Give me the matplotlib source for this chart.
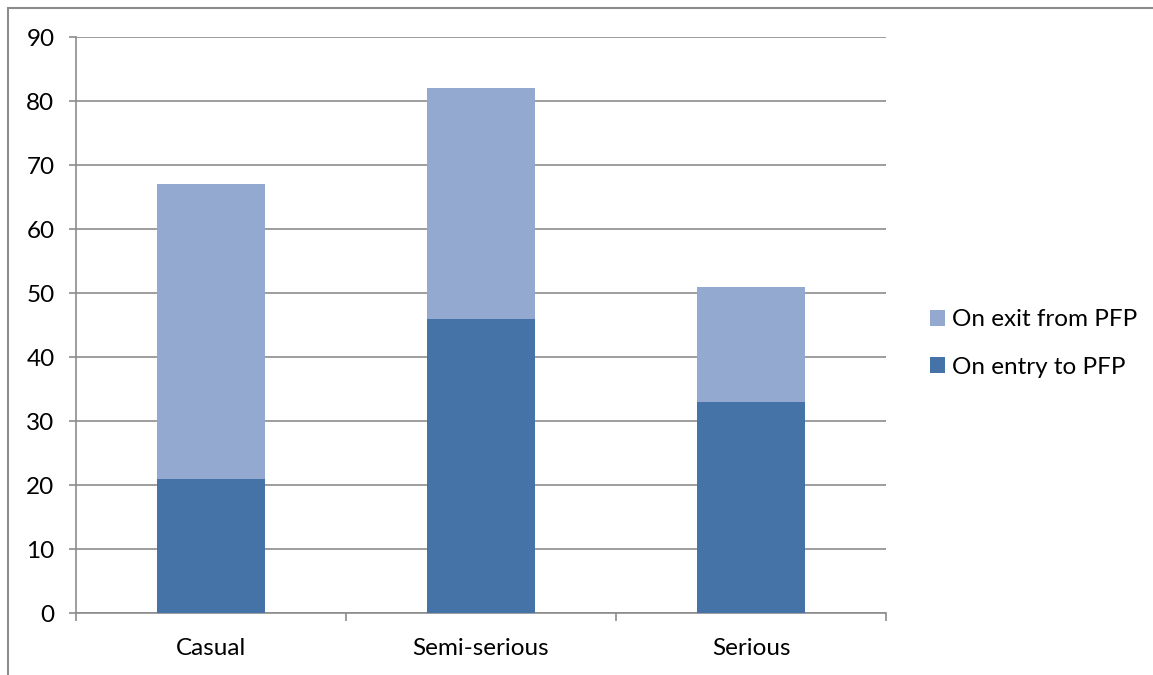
import numpy as np
import matplotlib
matplotlib.use('Agg')
from matplotlib import pyplot as plt
from matplotlib.patches import Rectangle

categories = ['Casual', 'Semi-serious', 'Serious']
on_entry = [21, 46, 33]
on_exit = [46, 36, 18]  # stacked on top of entry values
y_ticks = [0, 10, 20, 30, 40, 50, 60, 70, 80, 90]

entry_color = '#4572a7'
exit_color = '#93a9cf'
grid_color = '#8c8c8c'
fsize = 17.5

plt.rcParams['font.family'] = ['Lato', 'DejaVu Sans']

fig = plt.figure(figsize=(11.53, 6.75), dpi=100)
ax = fig.add_axes([76 / 1153, 1 - 613 / 675, 810 / 1153, 576 / 675])

x = np.arange(len(categories))
ax.bar(x, on_entry, width=0.4, color=entry_color, label='On entry to PFP', zorder=3)
ax.bar(x, on_exit, width=0.4, bottom=on_entry, color=exit_color,
       label='On exit from PFP', zorder=3)

ax.set_xlim(-0.5, len(categories) - 0.5)
ax.set_ylim(0, 90)
ax.set_yticks(y_ticks)
ax.yaxis.grid(True, color=grid_color, linewidth=1.2, zorder=0)

# category labels centred, tick marks at category boundaries
ax.set_xticks(x)
ax.set_xticklabels(categories)
ax.set_xticks(np.arange(len(categories) + 1) - 0.5, minor=True)
ax.tick_params(axis='x', which='major', length=0, pad=18, labelsize=fsize)
ax.tick_params(axis='x', which='minor', length=6, width=1.2, color=grid_color)
ax.tick_params(axis='y', length=5, width=1.2, color=grid_color, pad=10.5, labelsize=fsize)

for side in ['top', 'right']:
    ax.spines[side].set_visible(False)
for side in ['left', 'bottom']:
    ax.spines[side].set_color(grid_color)
    ax.spines[side].set_linewidth(1.2)

handles, labels = ax.get_legend_handles_labels()
fig.legend(handles[::-1], labels[::-1], loc='center left',
           bbox_to_anchor=(930 / 1153, 1 - 343.5 / 675), frameon=False,
           fontsize=fsize, handlelength=0.62, handleheight=0.62,
           handletextpad=0.3, labelspacing=1.08,
           borderaxespad=0, borderpad=0)

# chart area border (cropped at right and bottom)
fig.patches.append(Rectangle((8 / 1153, -0.5), 2.0, 0.5 + 1 - 8 / 675,
                             transform=fig.transFigure, fill=False,
                             edgecolor=grid_color, linewidth=1.5))

fig.savefig('out.png', dpi=100)
plt.close(fig)
